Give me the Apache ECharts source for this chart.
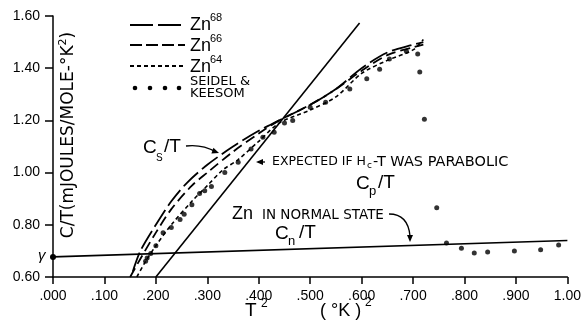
<!DOCTYPE html>
<html>
<head>
<meta charset="utf-8">
<script src="https://cdn.jsdelivr.net/npm/echarts@6/dist/echarts.min.js"></script>
<style>
  html, body { margin: 0; padding: 0; background: #fff; }
  #chart { width: 584px; height: 324px; }
</style>
</head>
<body>
<div id="chart"></div>
<script>
// x = T^2 (°K)^2, y = C/T (mJ/mole-°K^2)
var xTicks = [0, 0.1, 0.2, 0.3, 0.4, 0.5, 0.6, 0.7, 0.8, 0.9, 1.0];
var xTickLabels = ['.000', '.100', '.200', '.300', '.400', '.500', '.600', '.700', '.800', '.900', '1.00'];

var zn68 = [
    [0.155, 0.62], [0.17, 0.70], [0.2, 0.80], [0.23, 0.89], [0.26, 0.96], [0.3, 1.03],
    [0.35, 1.10], [0.4, 1.16], [0.44, 1.20], [0.5, 1.26], [0.55, 1.32], [0.6, 1.40],
    [0.65, 1.46], [0.7, 1.49], [0.72, 1.50]
];
var zn66 = [
    [0.15, 0.60], [0.17, 0.67], [0.2, 0.77], [0.23, 0.86], [0.27, 0.95], [0.3, 1.00],
    [0.35, 1.08], [0.4, 1.15], [0.44, 1.20], [0.5, 1.26], [0.55, 1.32], [0.6, 1.39],
    [0.65, 1.45], [0.7, 1.48], [0.72, 1.49]
];
var zn64 = [
    [0.163, 0.60], [0.18, 0.66], [0.2, 0.72], [0.23, 0.80], [0.27, 0.89], [0.3, 0.95],
    [0.33, 1.01], [0.36, 1.05], [0.4, 1.12], [0.44, 1.19], [0.5, 1.24], [0.55, 1.29],
    [0.6, 1.38], [0.65, 1.43], [0.7, 1.47], [0.72, 1.51]
];
var seidelKeesom = [
    [0.18, 0.66], [0.183, 0.673], [0.19, 0.69], [0.2, 0.72], [0.214, 0.77], [0.23, 0.79],
    [0.247, 0.82], [0.255, 0.84], [0.27, 0.877], [0.285, 0.92], [0.295, 0.93], [0.308, 0.947],
    [0.334, 1.00], [0.36, 1.04], [0.385, 1.09], [0.408, 1.135], [0.43, 1.155], [0.45, 1.19],
    [0.466, 1.20], [0.5, 1.25], [0.53, 1.27], [0.577, 1.32], [0.61, 1.36], [0.635, 1.396],
    [0.654, 1.435], [0.687, 1.465], [0.709, 1.454], [0.713, 1.385], [0.722, 1.204],
    [0.746, 0.865], [0.765, 0.73], [0.794, 0.71], [0.819, 0.692], [0.845, 0.696],
    [0.897, 0.70], [0.948, 0.704], [0.983, 0.723]
];
var normalState = [[0, 0.677], [1.0, 0.74]];
var parabolic = [[0.2, 0.60], [0.596, 1.573]];

var FONT = 'Liberation Sans';
var CAPS = 'DejaVu Sans';

function txt(x, y, s, size, extra) {
    return {
        type: 'text', x: x, y: y, z: 10,
        style: Object.assign({
            text: s, fontSize: size, fontFamily: FONT, fill: '#000',
            verticalAlign: 'middle', align: 'left'
        }, extra || {})
    };
}

function legendLine(y, dash) {
    return {
        type: 'line', z: 10,
        shape: { x1: 130, y1: y, x2: 185, y2: y },
        style: { stroke: '#000', lineWidth: 1.8, lineDash: dash }
    };
}

function dot(x, y) {
    return { type: 'circle', z: 10, shape: { cx: x, cy: y, r: 2.3 }, style: { fill: '#000' } };
}

function arrowHead(tx, ty, angle) {
    var len = 7, w = 3;
    var c = Math.cos(angle), s = Math.sin(angle);
    var bx = tx - len * c, by = ty - len * s;
    return {
        type: 'polygon', z: 10,
        shape: { points: [[tx, ty], [bx - w * s, by + w * c], [bx + w * s, by - w * c]] },
        style: { fill: '#000' }
    };
}

var graphics = [
    // legend
    legendLine(25, [23, 5]),
    legendLine(45, [12, 4]),
    legendLine(66, [4, 3]),
    dot(135, 88), dot(150, 88), dot(165, 88), dot(179, 88),
    txt(190, 25, 'Zn', 18), txt(210, 18, '68', 11),
    txt(190, 46, 'Zn', 18), txt(210, 39, '66', 11),
    txt(190, 67, 'Zn', 18), txt(210, 60, '64', 11),
    txt(190, 82, 'SEIDEL &', 13, { fontFamily: CAPS }),
    txt(190, 94, 'KEESOM', 13, { fontFamily: CAPS }),
    // axis names
    {
        type: 'text', x: 69, y: 135, rotation: Math.PI / 2, z: 10,
        style: {
            text: 'C/T(mJOULES/MOLE-°K{s|2})', fontSize: 17, fontFamily: CAPS, fill: '#000',
            align: 'center', verticalAlign: 'middle',
            rich: { s: { fontSize: 11, fontFamily: CAPS, verticalAlign: 'top', lineHeight: 22 } }
        }
    },
    txt(245, 311, 'T', 19), txt(261, 304, '2', 12),
    txt(320, 311, '( °K )', 18), txt(365, 303, '2', 12),
    txt(38, 256, 'γ', 15, { fontStyle: 'italic' }),
    // Cs/T
    txt(143, 148, 'C', 19), txt(156, 158, 'S', 10), txt(164, 147, '/T', 19),
    { type: 'bezierCurve', z: 10, shape: { x1: 186, y1: 146, x2: 216, y2: 152, cpx1: 202, cpy1: 144 },
      style: { stroke: '#000', lineWidth: 1.3, fill: null } },
    arrowHead(219, 153, 0.35),
    // expected if parabolic
    arrowHead(256, 162, Math.PI),
    { type: 'line', z: 10, shape: { x1: 258, y1: 162, x2: 265, y2: 162 }, style: { stroke: '#000', lineWidth: 1.3 } },
    txt(366, 162, 'EXPECTED IF H', 12.5, { align: 'right', fontFamily: CAPS }),
    txt(367, 166, 'c', 9, { fontFamily: CAPS }),
    txt(373, 162, '-T WAS PARABOLIC', 14.5, { fontFamily: CAPS }),
    // Cp/T
    txt(356, 184, 'C', 19), txt(369, 191, 'p', 13), txt(378, 183, '/T', 19),
    // Zn in normal state
    txt(232, 214, 'Zn', 18),
    txt(262, 215, 'IN NORMAL STATE', 13.5, { fontFamily: CAPS }),
    { type: 'bezierCurve', z: 10, shape: { x1: 389, y1: 214, x2: 410, y2: 236, cpx1: 408, cpy1: 214 },
      style: { stroke: '#000', lineWidth: 1.3, fill: null } },
    arrowHead(410, 242, Math.PI / 2),
    txt(275, 234, 'C', 19), txt(288, 241, 'n', 13), txt(299, 233, '/T', 19)
];

var lineBase = { type: 'line', showSymbol: false, smooth: 0.3, z: 3, silent: true };

var option = {
    animation: false,
    backgroundColor: '#fff',
    grid: { left: 53, right: 16, top: 16, bottom: 47 },
    xAxis: {
        type: 'value', min: 0, max: 1, interval: 0.1,
        axisLine: { lineStyle: { color: '#000', width: 1.5 } },
        axisTick: { length: 7, lineStyle: { color: '#000', width: 1.5 } },
        axisLabel: {
            color: '#000', fontSize: 14, fontFamily: FONT, margin: 12,
            formatter: function (v) {
                var i = xTicks.findIndex(function (t) { return Math.abs(t - v) < 1e-6; });
                return i >= 0 ? xTickLabels[i] : '';
            }
        },
        splitLine: { show: false }
    },
    yAxis: {
        type: 'value', min: 0.6, max: 1.6, interval: 0.2,
        axisLine: { show: true, lineStyle: { color: '#000', width: 1.5 } },
        axisTick: { show: true, length: 8, lineStyle: { color: '#000', width: 1.5 } },
        axisLabel: {
            color: '#000', fontSize: 14, fontFamily: FONT, margin: 13,
            formatter: function (v) { return v.toFixed(2); }
        },
        splitLine: { show: false }
    },
    series: [
        Object.assign({}, lineBase, { name: 'Zn68', data: zn68,
            lineStyle: { color: '#000', width: 1.8, type: [20, 5] } }),
        Object.assign({}, lineBase, { name: 'Zn66', data: zn66,
            lineStyle: { color: '#000', width: 1.8, type: [10, 5] } }),
        Object.assign({}, lineBase, { name: 'Zn64', data: zn64,
            lineStyle: { color: '#000', width: 1.6, type: [4, 3] } }),
        {
            name: 'Seidel & Keesom', type: 'scatter', data: seidelKeesom, z: 4, silent: true,
            symbol: 'circle', symbolSize: 5, itemStyle: { color: '#000' }
        },
        {
            name: 'Normal', type: 'line', z: 3, silent: true,
            data: normalState.map(function (p, i) {
                return i === 0 ? { value: p, symbol: 'circle', symbolSize: 6 } : { value: p, symbol: 'none' };
            }),
            showSymbol: true, itemStyle: { color: '#000' },
            lineStyle: { color: '#000', width: 1.6 }
        },
        {
            name: 'Parabolic', type: 'line', z: 3, silent: true, data: parabolic, showSymbol: false,
            lineStyle: { color: '#000', width: 1.6 }
        }
    ],
    graphic: graphics
};

var chart = echarts.init(document.getElementById('chart'));
chart.setOption(option);
</script>
</body>
</html>
